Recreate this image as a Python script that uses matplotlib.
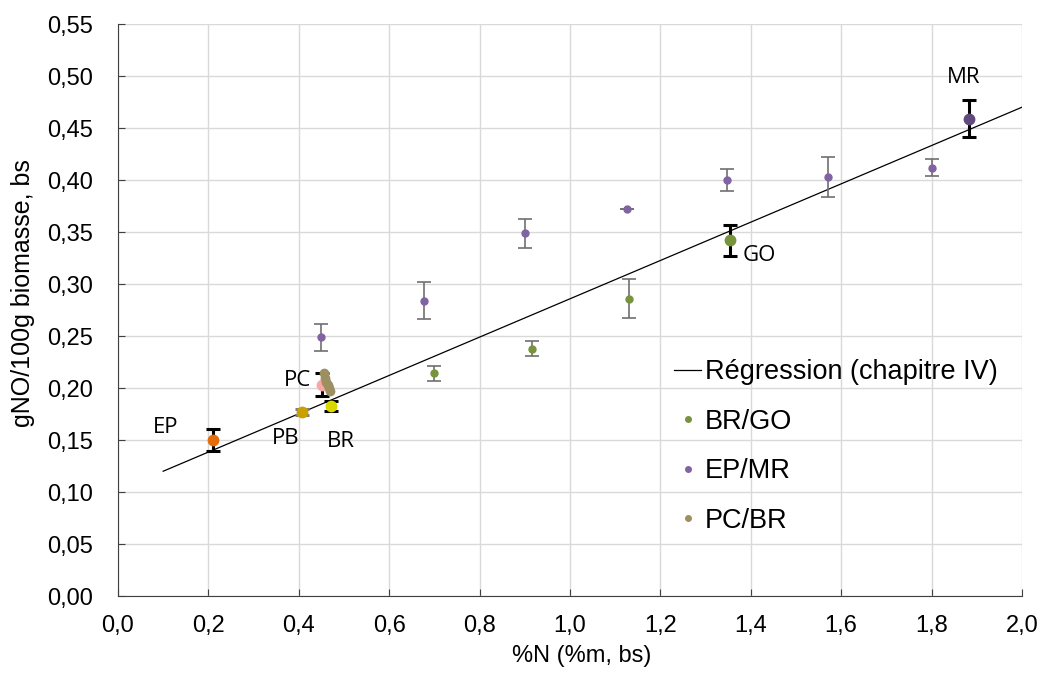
import matplotlib
matplotlib.use("Agg")
import matplotlib.pyplot as plt
from matplotlib.ticker import FuncFormatter, MultipleLocator

plt.rcParams['font.family'] = ['Liberation Sans', 'DejaVu Sans']

# Regression line (chapitre IV)
reg_x = [0.1, 2.0]
reg_y = [0.12, 0.47]

# BR/GO series
brgo_x = [0.70, 0.917, 1.13]
brgo_y = [0.214, 0.238, 0.286]
brgo_err = [0.007, 0.007, 0.019]

# EP/MR series
epmr_x = [0.45, 0.677, 0.90, 1.127, 1.347, 1.571, 1.80]
epmr_y = [0.249, 0.284, 0.349, 0.372, 0.400, 0.403, 0.412]
epmr_err = [0.013, 0.018, 0.014, 0.0, 0.011, 0.019, 0.008]

# PC/BR series
pcbr_x = [0.455, 0.458, 0.461, 0.464, 0.467, 0.470]
pcbr_y = [0.214, 0.210, 0.206, 0.203, 0.200, 0.197]

# Highlighted pure samples
pure_names = ['EP', 'PB', 'PC', 'BR', 'GO', 'MR']
pure_x = [0.211, 0.407, 0.451, 0.471, 1.355, 1.883]
pure_y = [0.150, 0.177, 0.203, 0.183, 0.342, 0.459]
pure_err = [0.011, 0.003, 0.011, 0.005, 0.015, 0.018]
pure_colors = ['#E46C0A', '#C9A000', '#F9A6A6', '#D8D800', '#77933C', '#604A7B']
pure_ecolors = ['black', '#808080', 'black', 'black', 'black', 'black']
label_pos = {'EP': (0.077, 0.1625), 'PB': (0.341, 0.151), 'PC': (0.367, 0.207),
             'BR': (0.462, 0.149), 'GO': (1.383, 0.327), 'MR': (1.834, 0.499)}

fig = plt.figure(figsize=(10.46, 6.75), dpi=100)
ax = fig.add_axes([0.1128, 0.117, 0.977 - 0.1128, 0.9644 - 0.117])

ax.set_xlim(0, 2.0)
ax.set_ylim(0, 0.55)
ax.xaxis.set_major_locator(MultipleLocator(0.2))
ax.yaxis.set_major_locator(MultipleLocator(0.05))
ax.xaxis.set_major_formatter(FuncFormatter(lambda v, p: f"{v:.1f}".replace('.', ',')))
ax.yaxis.set_major_formatter(FuncFormatter(lambda v, p: f"{v:.2f}".replace('.', ',')))
ax.grid(True, color='#D9D9D9', linewidth=1.0)
ax.set_axisbelow(True)
for s in ['top', 'right']:
    ax.spines[s].set_visible(False)
for s in ['left', 'bottom']:
    ax.spines[s].set_color('#404040')
ax.tick_params(direction='in', length=5, color='#404040', labelsize=17)
ax.tick_params(axis='y', pad=18)
ax.tick_params(axis='x', pad=14)

ax.plot(reg_x, reg_y, color='black', linewidth=0.9, zorder=2)

ax.errorbar(brgo_x, brgo_y, yerr=brgo_err, fmt='o', color='#77933C', markersize=5,
            ecolor='#707070', elinewidth=1.2, capsize=5, capthick=1.2, zorder=3)
ax.errorbar(epmr_x, epmr_y, yerr=epmr_err, fmt='o', color='#8064A2', markersize=5,
            ecolor='#707070', elinewidth=1.2, capsize=5, capthick=1.2, zorder=3)

for n, x, y, e, c, ec in zip(pure_names, pure_x, pure_y, pure_err, pure_colors, pure_ecolors):
    ax.errorbar([x], [y], yerr=[e], fmt='o', color=c, markersize=7.5, ecolor=ec,
                elinewidth=2.2, capsize=5, capthick=2.2, zorder=4)
    tx, ty = label_pos[n]
    ax.text(tx, ty, n, fontsize=16, family=['Open Sans', 'DejaVu Sans'], ha='left', va='center')

ax.plot(pcbr_x, pcbr_y, 'o', color='#9C9060', markersize=6, zorder=5)

# legend handles
h_reg, = ax.plot([], [], color='black', linewidth=0.9)
h1, = ax.plot([], [], 'o', color='#77933C', markersize=4)
h2, = ax.plot([], [], 'o', color='#8064A2', markersize=4)
h3, = ax.plot([], [], 'o', color='#9C9060', markersize=4)
leg = fig.legend([h_reg, h1, h2, h3], ['Régression (chapitre IV)', 'BR/GO', 'EP/MR', 'PC/BR'],
                 loc='upper left', bbox_to_anchor=(0.634, 0.484), frameon=False, fontsize=19.5,
                 handlelength=1.0, handletextpad=0.15, labelspacing=0.87, borderaxespad=0)

ax.set_xlabel('%N (%m, bs)', fontsize=17)
ax.xaxis.set_label_coords(0.513, -0.086)
ax.set_ylabel('gNO/100g biomasse, bs', fontsize=18)
ax.yaxis.set_label_coords(-0.092, 0.53)

fig.savefig('out.png', dpi=100)
